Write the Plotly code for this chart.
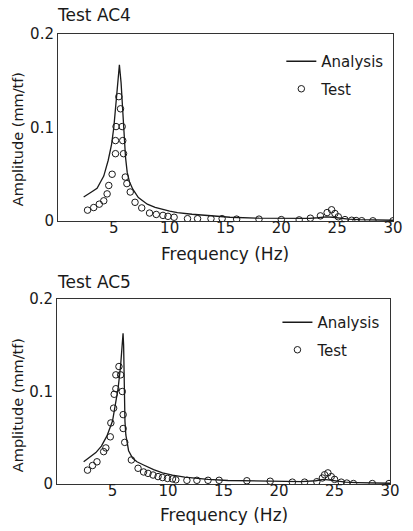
import plotly.graph_objects as go

# ---------------- data ----------------
# Test AC4 (top panel)
freq_analysis_ac4 = [2.3, 2.8, 3.0, 3.5, 4.1, 4.5, 4.8, 5.0, 5.2, 5.35, 5.5, 5.65, 5.8, 5.95, 6.05,
                     6.2, 6.4, 6.7, 7.2, 8.0, 8.7, 10.0, 10.7, 12.0, 13.7, 15.4, 18.0, 20.0, 21.5,
                     22.5, 23.3, 24.0, 24.6, 25.2, 26.0, 27.0, 28.5, 30.0]
amp_analysis_ac4 = [0.0256, 0.029, 0.031, 0.035, 0.048, 0.065, 0.082, 0.100, 0.125, 0.148, 0.167,
                    0.148, 0.115, 0.085, 0.068, 0.052, 0.042, 0.034, 0.025, 0.018, 0.0145, 0.0105,
                    0.009, 0.0072, 0.0052, 0.004, 0.003, 0.0026, 0.0025, 0.0028, 0.0035, 0.0045,
                    0.004, 0.003, 0.002, 0.0015, 0.001, 0.0008]
freq_test_ac4 = [2.65, 3.2, 3.7, 4.1, 4.4, 4.55, 4.85, 5.15, 5.15, 5.2, 5.45, 5.6, 5.75, 5.8, 5.87,
                 6.03, 6.17, 6.47, 6.9, 7.5, 8.2, 8.8, 9.4, 9.85, 10.4, 11.6, 12.5, 13.7, 14.7,
                 16.0, 18.0, 20.0, 21.6, 22.6, 23.5, 24.1, 24.5, 24.8, 25.1, 25.7, 26.3, 26.7,
                 27.2, 28.2, 30.0]
amp_test_ac4 = [0.0116, 0.0144, 0.018, 0.0216, 0.029, 0.038, 0.050, 0.072, 0.086, 0.101, 0.133,
                0.120, 0.101, 0.086, 0.072, 0.047, 0.040, 0.031, 0.020, 0.014, 0.0085, 0.007,
                0.006, 0.005, 0.004, 0.0025, 0.0025, 0.0025, 0.0025, 0.002, 0.002, 0.0015, 0.0012,
                0.003, 0.0055, 0.009, 0.012, 0.008, 0.0045, 0.0015, 0.0008, 0.0005, 0.0003,
                0.0002, 0.0002]

# Test AC5 (bottom panel)
freq_analysis_ac5 = [2.4, 3.0, 3.5, 4.0, 4.5, 5.0, 5.3, 5.5, 5.73, 5.85, 5.95, 6.0, 6.03, 6.07,
                     6.12, 6.2, 6.45, 6.8, 7.2, 7.8, 8.7, 9.5, 10.4, 11.5, 12.5, 13.6, 15.4, 18.0,
                     20.0, 22.0, 23.3, 24.0, 24.6, 25.3, 26.0, 27.0, 28.5, 30.0]
amp_analysis_ac5 = [0.024, 0.029, 0.034, 0.041, 0.052, 0.068, 0.087, 0.103, 0.128, 0.145, 0.163,
                    0.150, 0.120, 0.090, 0.068, 0.053, 0.036, 0.028, 0.024, 0.0205, 0.0155, 0.012,
                    0.0095, 0.0075, 0.0062, 0.005, 0.0038, 0.0032, 0.0028, 0.0026, 0.0035, 0.005,
                    0.0042, 0.003, 0.002, 0.0015, 0.001, 0.0008]
freq_test_ac5 = [2.75, 3.2, 3.6, 4.2, 4.4, 4.8, 4.85, 5.1, 5.15, 5.3, 5.3, 5.58, 5.73, 5.88, 5.96,
                 5.96, 6.1, 6.7, 7.3, 7.8, 8.2, 8.65, 9.1, 9.5, 9.95, 10.4, 10.7, 11.7, 12.6, 13.6,
                 14.6, 17.1, 19.2, 21.2, 22.3, 23.4, 23.9, 24.1, 24.4, 24.7, 25.0, 25.6, 26.1, 26.7,
                 28.4, 29.9]
amp_test_ac5 = [0.015, 0.02, 0.024, 0.035, 0.039, 0.051, 0.066, 0.082, 0.097, 0.103, 0.118, 0.127,
                0.118, 0.100, 0.075, 0.060, 0.045, 0.026, 0.017, 0.013, 0.0115, 0.0097, 0.008,
                0.007, 0.006, 0.0055, 0.0045, 0.004, 0.004, 0.004, 0.004, 0.0035, 0.003, 0.002,
                0.002, 0.0025, 0.0065, 0.010, 0.012, 0.008, 0.005, 0.002, 0.001, 0.0005, 0.0005,
                0.0005]

x_ticks = [5, 10, 15, 20, 25, 30]
y_ticks = [0, 0.1, 0.2]
y_ticktext = ["0", "0.1", "0.2"]
panel_titles = ["Test AC4", "Test AC5"]
x_title = "Frequency (Hz)"
y_title = "Amplitude (mm/tf)"

# ---------------- figure ----------------
FONT = "DejaVu Sans"
INK = "#1a1a1a"
W, H = 413, 531
ML, MR, MT, MB = 57, 10, 34, 47
PW = W - ML - MR
PH = H - MT - MB

def px_x(p):
    return (p - ML) / PW

def px_y(p):
    return (H - MB - p) / PH

fig = go.Figure()

panels = [
    (freq_analysis_ac4, amp_analysis_ac4, freq_test_ac4, amp_test_ac4, "x", "y", "legend"),
    (freq_analysis_ac5, amp_analysis_ac5, freq_test_ac5, amp_test_ac5, "x2", "y2", "legend2"),
]
for fa, aa, ft, at, xa, ya, lg in panels:
    fig.add_trace(go.Scatter(x=fa, y=aa, mode="lines", name="Analysis",
                             line=dict(color=INK, width=1.3),
                             xaxis=xa, yaxis=ya, legend=lg, legendgroup=lg + "a"))
    fig.add_trace(go.Scatter(x=ft, y=at, mode="markers", name="Test",
                             marker=dict(symbol="circle-open", size=6.5,
                                         line=dict(color=INK, width=1), color=INK),
                             xaxis=xa, yaxis=ya, legend=lg, legendgroup=lg + "t"))

axis_common = dict(showline=True, mirror=True, linecolor="#333", linewidth=1,
                   showgrid=False, zeroline=False, ticks="",
                   tickfont=dict(family=FONT, size=15, color=INK))
xaxis_extra = dict(ticklabelstandoff=-7)

fig.update_layout(
    width=W, height=H,
    margin=dict(l=ML, r=MR, t=MT, b=MB),
    paper_bgcolor="white", plot_bgcolor="white",
    font=dict(family=FONT, color=INK),
    xaxis=dict(domain=[px_x(58), 1.0], range=[0, 30], tickvals=x_ticks, anchor="y",
               **axis_common, **xaxis_extra),
    yaxis=dict(domain=[px_y(221), 1.0], range=[0, 0.2], tickvals=y_ticks,
               ticktext=y_ticktext, anchor="x", **axis_common),
    xaxis2=dict(domain=[0.0, px_x(400)], range=[0, 30], tickvals=x_ticks, anchor="y2",
                **axis_common, **xaxis_extra),
    yaxis2=dict(domain=[0.0, px_y(299)], range=[0, 0.2], tickvals=y_ticks,
                ticktext=y_ticktext, anchor="x2", **axis_common),
    legend=dict(x=px_x(288), y=px_y(45), xanchor="left", yanchor="top",
                bgcolor="rgba(0,0,0,0)", font=dict(family=FONT, size=15, color=INK),
                tracegroupgap=5, itemwidth=30),
    legend2=dict(x=px_x(284), y=px_y(306), xanchor="left", yanchor="top",
                 bgcolor="rgba(0,0,0,0)", font=dict(family=FONT, size=15, color=INK),
                 tracegroupgap=5, itemwidth=30),
    showlegend=True,
)

annotations = [
    dict(text=panel_titles[0], x=px_x(55), y=px_y(15), xanchor="left", yanchor="middle",
         font=dict(size=17)),
    dict(text=panel_titles[1], x=px_x(55), y=px_y(282), xanchor="left", yanchor="middle",
         font=dict(size=17)),
    dict(text=y_title, x=px_x(17), y=px_y(139), textangle=-90, xanchor="center",
         yanchor="middle", font=dict(size=14.5)),
    dict(text=y_title, x=px_x(17), y=px_y(405), textangle=-90, xanchor="center",
         yanchor="middle", font=dict(size=14.5)),
    dict(text=x_title, x=px_x(230), y=px_y(254), xanchor="center", yanchor="middle",
         font=dict(size=17)),
    dict(text=x_title, x=px_x(229), y=px_y(515), xanchor="center", yanchor="middle",
         font=dict(size=17)),
]
for a in annotations:
    a.update(xref="paper", yref="paper", showarrow=False)
    a["font"].update(family=FONT, color=INK)
fig.update_layout(annotations=annotations)

fig.write_html("out.html", config={"displayModeBar": False},
               post_script="document.body.style.margin='0';")
